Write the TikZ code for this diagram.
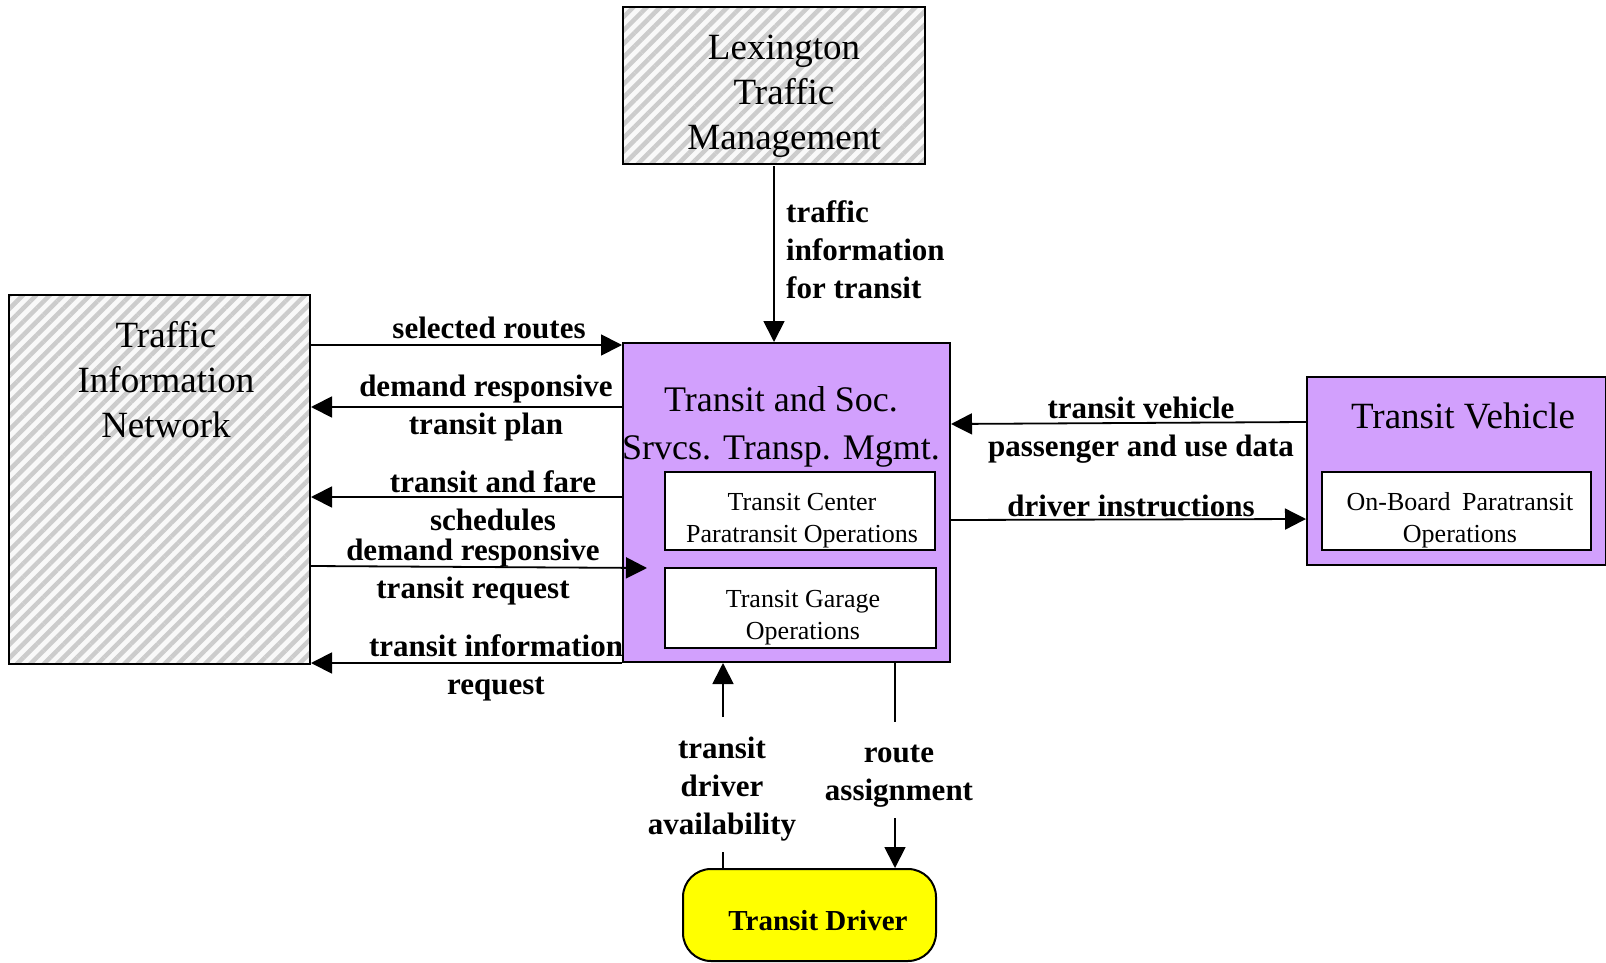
\documentclass[tikz,border=0pt]{standalone}
\usepackage{fontspec}
\setmainfont{Liberation Serif}
\usetikzlibrary{arrows.meta,patterns.meta}
\definecolor{purp}{RGB}{210,160,253}
\definecolor{yel}{RGB}{255,255,0}
\tikzset{
  hatchbox/.style={draw=black, line width=2pt, preaction={fill=gray!5},
    pattern={Lines[angle=45,distance=9.5pt,line width=4.5pt]}, pattern color=gray!40,
    inner sep=0pt},
  purpbox/.style={draw=black, line width=2pt, fill=purp, inner sep=0pt},
  subbox/.style={draw=black, line width=2pt, fill=white, inner sep=0pt},
  drvbox/.style={draw=black, line width=2pt, fill=yel, rounded corners=28pt, inner sep=0pt},
  bigtxt/.style={font=\fontsize{37}{45}\selectfont, align=center, inner sep=0pt},
  smalltxt/.style={font=\fontsize{26}{32}\selectfont, align=center, inner sep=0pt},
  lbl/.style={font=\fontsize{31}{38}\selectfont\bfseries, align=center, inner sep=0pt},
  conn/.style={line width=1.8pt},
  arr/.style={line width=1.8pt, -{Triangle[length=21pt,width=21pt]}},
}
\begin{document}
\begin{tikzpicture}[x=1pt,y=-1pt]
\useasboundingbox (0,0) rectangle (1606,963);
% boxes
\node[hatchbox, minimum width=302pt, minimum height=157pt] (lex) at (774,85.5) {};
\node[hatchbox, minimum width=301pt, minimum height=369pt] (tin) at (159.5,479.5) {};
\node[purpbox, minimum width=327pt, minimum height=319pt] (ts) at (786.5,502.5) {};
\node[subbox, minimum width=270pt, minimum height=78pt] (tc) at (800,511) {};
\node[subbox, minimum width=271pt, minimum height=80pt] (tg) at (800.5,608) {};
\node[purpbox, minimum width=299pt, minimum height=188pt] (tv) at (1456.5,471) {};
\node[subbox, minimum width=269pt, minimum height=78pt] (ob) at (1456.5,511) {};
\node[drvbox, minimum width=253pt, minimum height=92pt] (drv) at (809.5,915) {};
% titles
\node[bigtxt] (lext) at (784,96.5) {Lexington\\Traffic\\Management};
\node[bigtxt] (tint) at (166,379.5) {Traffic\\Information\\Network};
\node[bigtxt, font=\fontsize{36}{48}\selectfont] (tst) at (781,426.5) {Transit and Soc.\\Srvcs. Transp. Mgmt.};
\node[bigtxt] (tvt) at (1463,416) {Transit Vehicle};
\node[smalltxt] (tct) at (802,521) {Transit Center\\Paratransit Operations};
\node[smalltxt] (tgt) at (803,617.5) {Transit Garage\\Operations};
\node[smalltxt] (obt) at (1460,520) {On-Board\hspace{0.45em}Paratransit\\Operations};
\node[font=\fontsize{29}{34}\selectfont\bfseries, inner sep=0pt] (drvt) at (818,921) {Transit Driver};
% coordinates for connector levels
\coordinate (y1) at (0,345);
\coordinate (y2) at (0,407);
\coordinate (y3) at (0,497);
\coordinate (y4a) at (0,566);
\coordinate (y4b) at (647,568);
\coordinate (y5) at (0,663);
\coordinate (y6a) at (0,422);
\coordinate (y6b) at (0,424);
\coordinate (y7a) at (0,520);
\coordinate (y7b) at (0,519);
\coordinate (avtop) at (723,717);
\coordinate (avbot) at (723,852);
\coordinate (ratop) at (895,722);
\coordinate (rabot) at (895,818);
% connectors
\draw[arr] (lex.south) -- (lex.south |- ts.north);
\draw[arr] (y1 -| tin.east) -- (y1 -| ts.west);
\draw[arr] (y2 -| ts.west) -- (y2 -| tin.east);
\draw[arr] (y3 -| ts.west) -- (y3 -| tin.east);
\draw[arr] (y4a -| tin.east) -- (y4b);
\draw[arr] (y5 -| ts.west) -- (y5 -| tin.east);
\draw[arr] (y6a -| tv.west) -- (y6b -| ts.east);
\draw[arr] (y7a -| ts.east) -- (y7b -| tv.west);
\draw[arr] (avtop) -- (avtop |- ts.south);
\draw[conn] (avbot) -- (avbot |- drv.north);
\draw[conn] (ratop |- ts.south) -- (ratop);
\draw[arr] (rabot) -- (rabot |- drv.north);
% labels
\node[lbl, anchor=west, align=left] (l1) at (786,250) {traffic\\information\\for transit};
\node[lbl] (l2) at (489,328) {selected routes};
\node[lbl] (l3) at (486,408) {demand responsive\\transit plan};
\node[lbl] (l4) at (493,501) {transit and fare\\schedules};
\node[lbl] (l5) at (473,572) {demand responsive\\transit request};
\node[lbl] (l6) at (496,668) {transit information\\request};
\node[lbl] (l7) at (1141,430.5) {transit vehicle\\passenger and use data};
\node[lbl] (l8) at (1131,506) {driver instructions};
\node[lbl] (l9) at (722,789) {transit\\driver\\availability};
\node[lbl] (l10) at (899,776) {route\\assignment};
\end{tikzpicture}
\end{document}
